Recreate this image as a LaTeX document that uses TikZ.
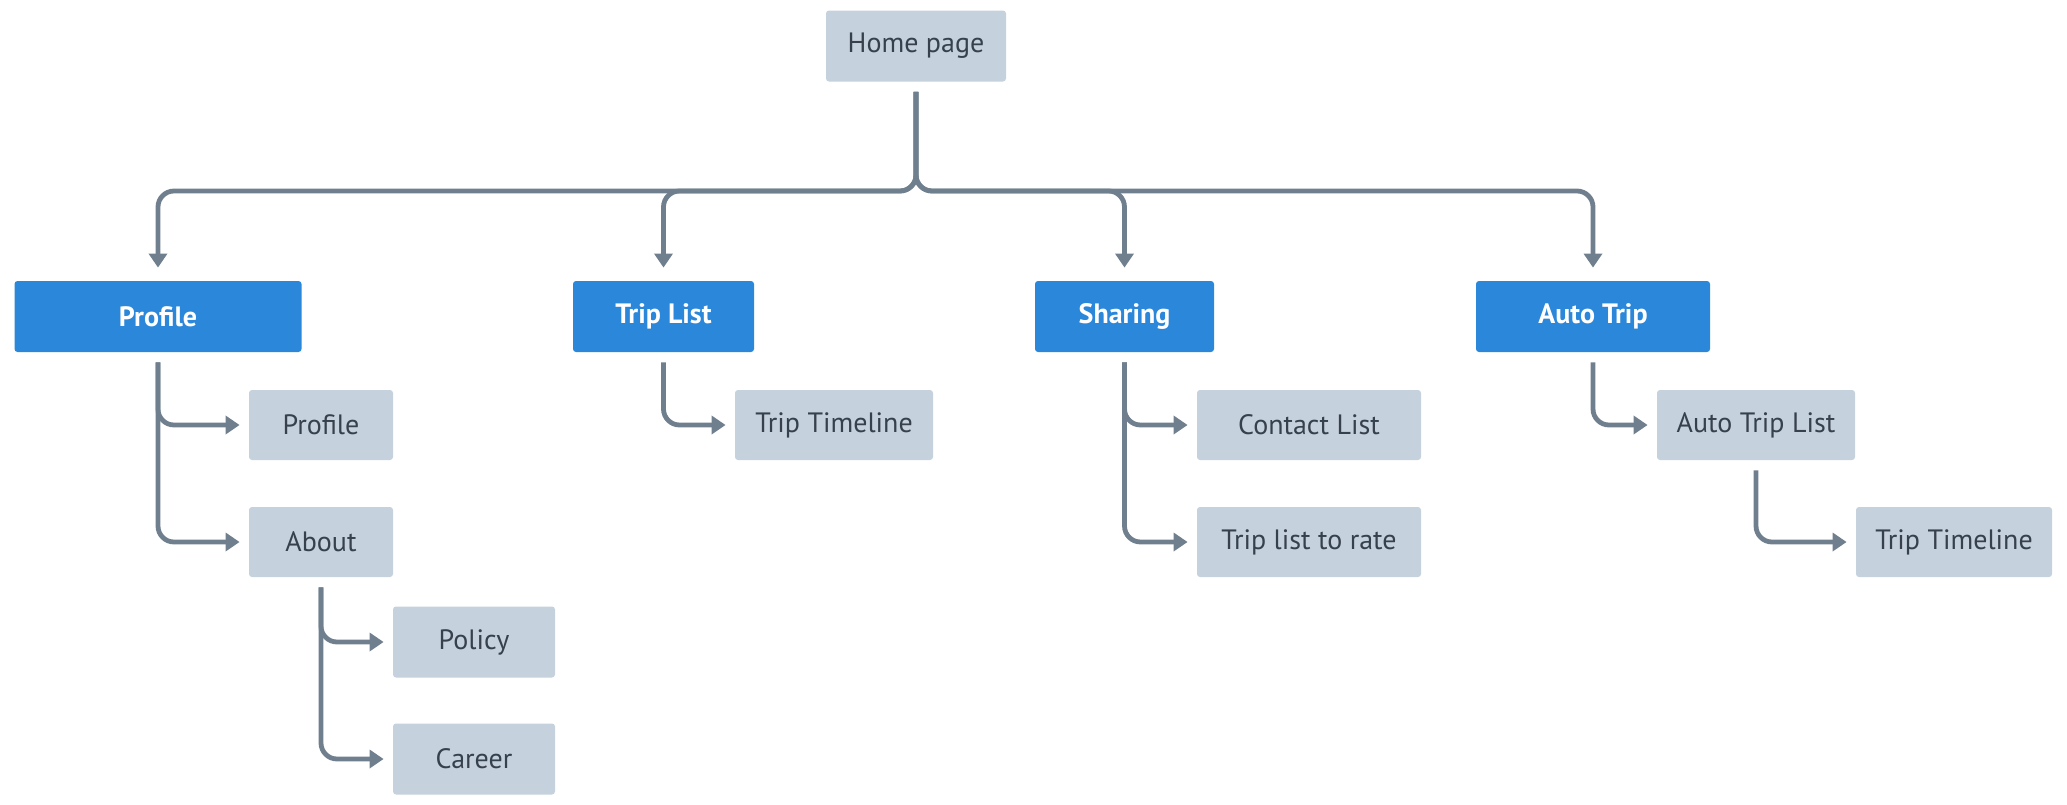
\documentclass[tikz,border=0pt]{standalone}
\usepackage{fontspec}
\setmainfont{PT Sans}
\usetikzlibrary{arrows.meta}
\definecolor{boxblue}{HTML}{2B87DA}
\definecolor{boxgrey}{HTML}{C5D1DC}
\definecolor{linecol}{HTML}{6F7F8E}
\definecolor{txtdark}{HTML}{36414D}
\begin{document}
\begin{tikzpicture}[x=0.5pt,y=-0.5pt,
  base/.style={rectangle, rounded corners=1.5pt, inner sep=0pt, font=\fontsize{14}{16}\selectfont},
  greybox/.style={base, fill=boxgrey, text=txtdark},
  bluebox/.style={base, fill=boxblue, text=white, font=\fontsize{14}{16}\selectfont\bfseries},
  conn/.style={draw=linecol, line width=2.4pt, rounded corners=8pt, -{Triangle[length=7pt,width=9pt]}, shorten <=5pt, shorten >=4.5pt},
  topconn/.style={conn, shorten >=6.5pt},
]
\useasboundingbox (0,0) rectangle (2067,804);

% nodes
\node[greybox, minimum width=90pt, minimum height=35.5pt] (home) at (916,46) {Home page};

\node[bluebox, minimum width=143.5pt, minimum height=35.5pt] (pB) at (158,316.5) {Profile};
\node[bluebox, minimum width=90.5pt, minimum height=35.5pt] (tB) at (663.5,316.5) {Trip List};
\node[bluebox, minimum width=89.5pt, minimum height=35.5pt] (sB) at (1124.5,316.5) {Sharing};
\node[bluebox, minimum width=117pt, minimum height=35.5pt] (aB) at (1593,316.5) {Auto Trip};

\node[greybox, minimum width=72pt, minimum height=35pt] (pG) at (321,425) {Profile};
\node[greybox, minimum width=99pt, minimum height=35pt] (ttG) at (834,425) {Trip Timeline};
\node[greybox, minimum width=112pt, minimum height=35pt] (clG) at (1309,425) {Contact List};
\node[greybox, minimum width=99pt, minimum height=35pt] (atlG) at (1756,425) {Auto Trip List};

\node[greybox, minimum width=72pt, minimum height=35pt] (about) at (321,542) {About};
\node[greybox, minimum width=112pt, minimum height=35pt] (rate) at (1309,542) {Trip list to rate};
\node[greybox, minimum width=98pt, minimum height=35pt] (tt2) at (1954,542) {Trip Timeline};

\node[greybox, minimum width=81pt, minimum height=35.5pt] (policy) at (474,642) {Policy};
\node[greybox, minimum width=81pt, minimum height=35.5pt] (career) at (474,759) {Career};

% bus
\coordinate (bus) at (0,191);

\foreach \c in {pB,tB,sB,aB}
  \draw[topconn] (home.south) -- (home.south |- bus) -| (\c.north);

% sub connectors
\draw[conn] (pB.south) |- (pG.west);
\draw[conn] (pB.south) |- (about.west);
\draw[conn] (about.south) |- (policy.west);
\draw[conn] (about.south) |- (career.west);
\draw[conn] (tB.south) |- (ttG.west);
\draw[conn] (sB.south) |- (clG.west);
\draw[conn] (sB.south) |- (rate.west);
\draw[conn] (aB.south) |- (atlG.west);
\draw[conn] (atlG.south) |- (tt2.west);
\end{tikzpicture}
\end{document}
